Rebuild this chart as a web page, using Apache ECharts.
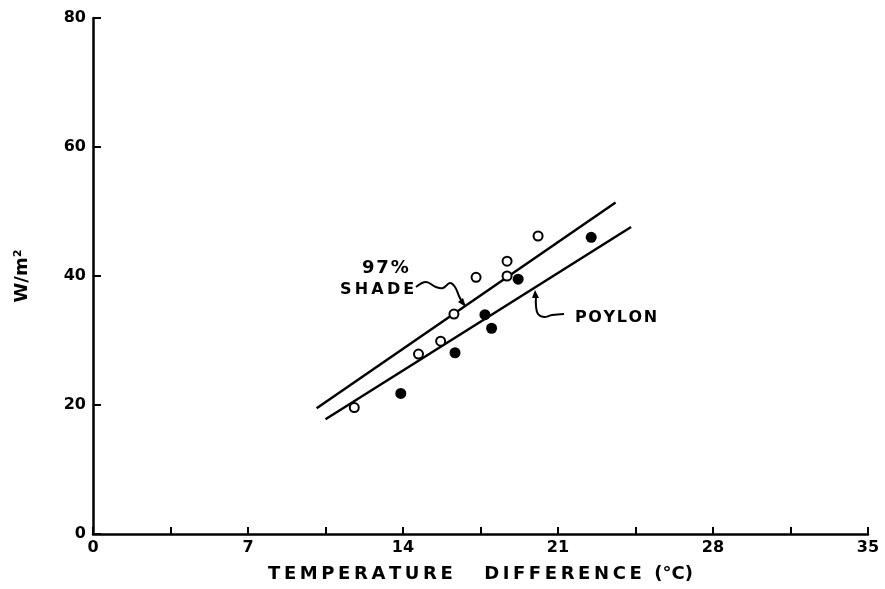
<!DOCTYPE html>
<html>
<head>
<meta charset="utf-8">
<script src="https://cdn.jsdelivr.net/npm/echarts@6/dist/echarts.min.js"></script>
<style>
html,body{margin:0;padding:0;background:#fff;}
#chart{width:885px;height:589px;}
</style>
</head>
<body>
<div id="chart"></div>
<script>
// Data
var xTickLabels = [0, 7, 14, 21, 28, 35];
var yTickLabels = [0, 20, 40, 60, 80];
var shadeX = [11.8, 14.7, 15.7, 16.3, 17.3, 18.7, 18.7, 20.1];
var shadeY = [19.6, 27.9, 29.9, 34.1, 39.8, 40.0, 42.3, 46.2];
var poylonX = [13.9, 16.35, 17.7, 18.0, 19.2, 22.5];
var poylonY = [21.8, 28.1, 34.0, 31.9, 39.5, 46.0];
var shadeLineX = [10.1, 23.6];
var shadeLineY = [19.5, 51.4];
var poylonLineX = [10.5, 24.3];
var poylonLineY = [17.8, 47.6];

function zip(a, b) { return a.map(function (v, i) { return [v, b[i]]; }); }
// widen lettering (the reference uses spaced stencil-style capitals)
function spaced(s) { return s.split('').join('\u2009'); }
function hair(s) { return s.split('').join('\u200A'); }

var FONT = '"DejaVu Sans", sans-serif';
var chart = echarts.init(document.getElementById('chart'));
chart.setOption({
  backgroundColor: '#ffffff',
  animation: false,
  grid: { left: 93, right: 17, top: 18, bottom: 55 },
  xAxis: {
    type: 'value', min: 0, max: 35, interval: 3.5,
    name: spaced('TEMPERATURE') + '     ' + spaced('DIFFERENCE') + '  (°C)',
    nameLocation: 'middle', nameGap: 31,
    nameTextStyle: { fontFamily: FONT, fontSize: 18, fontWeight: 'bold', color: '#000' },
    axisLine: { show: true, onZero: false, lineStyle: { color: '#000', width: 2.5 } },
    axisTick: { show: true, inside: true, length: 7, lineStyle: { color: '#000', width: 2 } },
    axisLabel: {
      fontFamily: FONT, fontSize: 16, fontWeight: 'bold', color: '#000', margin: 6,
      formatter: function (v) { return xTickLabels.indexOf(v) >= 0 ? String(v) : ''; }
    },
    splitLine: { show: false }
  },
  yAxis: {
    type: 'value', min: 0, max: 80, interval: 20,
    name: 'W/m²', nameLocation: 'middle', nameRotate: 90, nameGap: 62,
    nameTextStyle: { fontFamily: FONT, fontSize: 18, fontWeight: 'bold', color: '#000' },
    axisLine: { show: true, onZero: false, lineStyle: { color: '#000', width: 2.5 } },
    axisTick: { show: true, inside: true, length: 8, lineStyle: { color: '#000', width: 2 } },
    axisLabel: {
      fontFamily: FONT, fontSize: 16, fontWeight: 'bold', color: '#000', margin: 7,
      formatter: function (v) { return yTickLabels.indexOf(v) >= 0 ? String(v) : ''; }
    },
    splitLine: { show: false }
  },
  series: [
    {
      name: '97% SHADE line', type: 'line', data: zip(shadeLineX, shadeLineY),
      showSymbol: false, symbol: 'none', lineStyle: { color: '#000', width: 2.5 }, z: 2
    },
    {
      name: 'POYLON line', type: 'line', data: zip(poylonLineX, poylonLineY),
      showSymbol: false, symbol: 'none', lineStyle: { color: '#000', width: 2.5 }, z: 2
    },
    {
      name: '97% SHADE', type: 'scatter', data: zip(shadeX, shadeY),
      symbol: 'circle', symbolSize: 9,
      itemStyle: { color: '#fff', borderColor: '#000', borderWidth: 2, opacity: 1 }, z: 3
    },
    {
      name: 'POYLON', type: 'scatter', data: zip(poylonX, poylonY),
      symbol: 'circle', symbolSize: 11,
      itemStyle: { color: '#000', opacity: 1 }, z: 3
    }
  ],
  graphic: [
    { type: 'text', x: 362, y: 259, style: { text: hair('97%'), font: 'bold 18px ' + FONT, fill: '#000' } },
    { type: 'text', x: 340, y: 282, style: { text: spaced('SHADE'), font: 'bold 16px ' + FONT, fill: '#000' } },
    { type: 'polyline', shape: { points: [[416, 287], [426, 282], [436, 287], [443, 288], [450, 283], [455, 287], [459, 296], [462, 302]], smooth: 0.4 },
      style: { stroke: '#000', lineWidth: 2, fill: null } },
    { type: 'polygon', shape: { points: [[466, 307], [458, 302], [463, 298]] }, style: { fill: '#000' } },
    { type: 'text', x: 575, y: 310, style: { text: hair('POYLON'), font: 'bold 16px ' + FONT, fill: '#000' } },
    { type: 'polyline', shape: { points: [[536, 296], [536, 306], [538, 314], [544, 317], [552, 315], [564, 314]], smooth: 0.4 },
      style: { stroke: '#000', lineWidth: 2, fill: null } },
    { type: 'polygon', shape: { points: [[535, 290], [532, 298], [539, 298]] }, style: { fill: '#000' } }
  ]
});
</script>
</body>
</html>
